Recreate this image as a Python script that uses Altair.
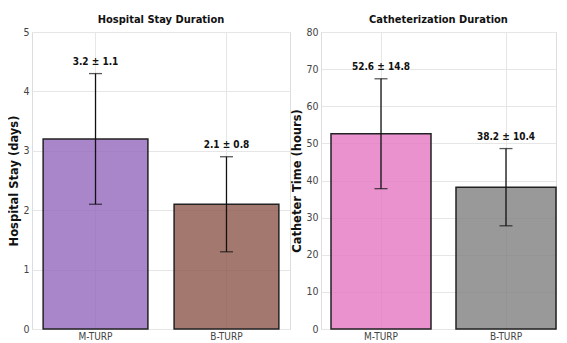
import altair as alt
import pandas as pd

groups = ["M-TURP", "B-TURP"]
stay_mean = [3.2, 2.1]
stay_sd = [1.1, 0.8]
cath_mean = [52.6, 38.2]
cath_sd = [14.8, 10.4]
stay_colors = ["#9467bd", "#8c564b"]
cath_colors = ["#e377c2", "#7f7f7f"]

FONT = "DejaVu Sans Condensed, sans-serif"


def make_df(means, sds):
    return pd.DataFrame({
        "group": groups,
        "mean": means,
        "lo": [m - s for m, s in zip(means, sds)],
        "hi": [m + s for m, s in zip(means, sds)],
        "label": [f"{m:.1f} ± {s:.1f}" for m, s in zip(means, sds)],
    })


def panel(means, sds, colors, title, ytitle, ymax, ystep, width, po, align, cfield):
    df = make_df(means, sds)
    df[cfield] = groups
    xscale = alt.Scale(paddingInner=0.2, paddingOuter=po, align=align)
    xaxis = alt.Axis(labelAngle=0, grid=True, bandPosition=0.5, ticks=False,
                     domain=False, labelFont=FONT, labelFontSize=10,
                     labelColor="#444", labelPadding=2, maxExtent=11,
                     minExtent=11, gridColor="#e6e6e6")
    yscale = alt.Scale(domain=[0, ymax], nice=False)
    yaxis = alt.Axis(values=list(range(0, ymax + 1, ystep)), ticks=False, domain=False,
                     format="d", labelOverlap=False,
                     labelFont=FONT, labelFontSize=10.5, labelColor="#444",
                     labelPadding=3, gridColor="#e6e6e6",
                     titleFont="DejaVu Sans", titleFontSize=11.5, titleFontWeight="bold",
                     titleColor="#111", titlePadding=3)

    def X():
        return alt.X("group:N", sort=groups, title=None, scale=xscale, axis=xaxis)

    def Y(field):
        return alt.Y(f"{field}:Q", title=ytitle, scale=yscale, axis=yaxis)

    base = alt.Chart(df)
    bars = base.mark_bar(stroke="#222", strokeWidth=1.5, fillOpacity=0.8).encode(
        x=X(), y=Y("mean"),
        color=alt.Color(f"{cfield}:N", scale=alt.Scale(domain=groups, range=colors),
                        legend=None),
    )
    err = base.mark_rule(color="#111", strokeWidth=1.3).encode(
        x=X(), y=Y("lo"), y2="hi:Q")
    caps_hi = base.mark_tick(color="#111", thickness=1.3, size=13, orient="horizontal").encode(
        x=X(), y=Y("hi"))
    caps_lo = base.mark_tick(color="#111", thickness=1.3, size=13, orient="horizontal").encode(
        x=X(), y=Y("lo"))
    text = base.mark_text(font=FONT, fontSize=10, fontWeight="bold", dy=-12,
                          color="#111").encode(
        x=X(), y=Y("hi"), text="label:N")
    return alt.layer(bars, err, caps_hi, caps_lo, text).properties(
        width=width, height=297,
        title=alt.TitleParams(title, font=FONT, fontSize=11, fontWeight="bold",
                              color="#111", offset=2),
    )


left = panel(stay_mean, stay_sd, stay_colors, "Hospital Stay Duration",
             "Hospital Stay (days)", 5, 1, 258, 0.085, 0.5, "c1")
right = panel(cath_mean, cath_sd, cath_colors, "Catheterization Duration",
              "Catheter Time (hours)", 80, 10, 235, 0.04, 1.0, "c2")

chart = alt.hconcat(left, right, spacing=0).resolve_scale(
    color="independent"
).configure_view(
    stroke="#dcdcdc", strokeWidth=1
).configure(padding={"left": 0, "top": 5, "right": 0, "bottom": 0})

chart.save("out.html", embed_options={"renderer": "svg", "actions": False})
